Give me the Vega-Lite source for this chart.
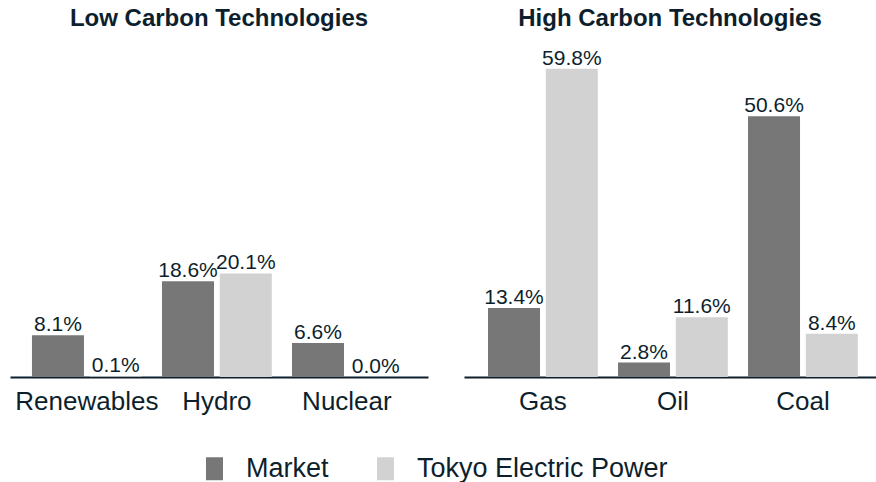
{
  "$schema": "https://vega.github.io/schema/vega-lite/v6.json",
  "padding": {"top": 7, "left": 10, "right": 0, "bottom": 0},
  "background": "white",
  "datasets": {
    "energy": [
      {"group": "Low", "tech": "Renewables", "series": "Market", "share": 0.081},
      {"group": "Low", "tech": "Renewables", "series": "Tokyo Electric Power", "share": 0.001},
      {"group": "Low", "tech": "Hydro", "series": "Market", "share": 0.186},
      {"group": "Low", "tech": "Hydro", "series": "Tokyo Electric Power", "share": 0.201},
      {"group": "Low", "tech": "Nuclear", "series": "Market", "share": 0.066},
      {"group": "Low", "tech": "Nuclear", "series": "Tokyo Electric Power", "share": 0.0},
      {"group": "High", "tech": "Gas", "series": "Market", "share": 0.134},
      {"group": "High", "tech": "Gas", "series": "Tokyo Electric Power", "share": 0.598},
      {"group": "High", "tech": "Oil", "series": "Market", "share": 0.028},
      {"group": "High", "tech": "Oil", "series": "Tokyo Electric Power", "share": 0.116},
      {"group": "High", "tech": "Coal", "series": "Market", "share": 0.506},
      {"group": "High", "tech": "Coal", "series": "Tokyo Electric Power", "share": 0.084}
    ]
  },
  "data": {"name": "energy"},
  "spacing": 36,
  "hconcat": [
    {
      "title": {"text": "Low Carbon Technologies"},
      "width": 418,
      "height": 335,
      "transform": [{"filter": "datum.group === 'Low'"}],
      "encoding": {
        "x": {"field": "tech", "type": "nominal", "sort": ["Renewables", "Hydro", "Nuclear"], "title": null,
              "scale": {"paddingInner": 0.111, "paddingOuter": 0.163, "align": 0.45}},
        "xOffset": {"field": "series", "type": "nominal", "sort": ["Market", "Tokyo Electric Power"],
                    "scale": {"paddingInner": 0.1, "paddingOuter": 0.05}},
        "y": {"field": "share", "type": "quantitative", "axis": null, "scale": {"domain": [0, 0.65], "nice": false}}
      },
      "layer": [
        {"mark": {"type": "bar"},
         "encoding": {"color": {"field": "series", "type": "nominal", "sort": ["Market", "Tokyo Electric Power"],
                                "scale": {"domain": ["Market", "Tokyo Electric Power"], "range": ["#777777", "#d2d2d2"]},
                                "title": null}}},
        {"mark": {"type": "text", "baseline": "alphabetic", "dy": -4, "fontSize": 21, "color": "#0d1f2d"},
         "encoding": {"text": {"field": "share", "type": "quantitative", "format": ".1%"}}}
      ]
    },
    {
      "title": {"text": "High Carbon Technologies"},
      "width": 412,
      "height": 335,
      "transform": [{"filter": "datum.group === 'High'"}],
      "encoding": {
        "x": {"field": "tech", "type": "nominal", "sort": ["Gas", "Oil", "Coal"], "title": null,
              "scale": {"paddingInner": 0.111, "paddingOuter": 0.14, "align": 0.58}},
        "xOffset": {"field": "series", "type": "nominal", "sort": ["Market", "Tokyo Electric Power"],
                    "scale": {"paddingInner": 0.1, "paddingOuter": 0.05}},
        "y": {"field": "share", "type": "quantitative", "axis": null, "scale": {"domain": [0, 0.65], "nice": false}}
      },
      "layer": [
        {"mark": {"type": "bar"},
         "encoding": {"color": {"field": "series", "type": "nominal", "sort": ["Market", "Tokyo Electric Power"],
                                "scale": {"domain": ["Market", "Tokyo Electric Power"], "range": ["#777777", "#d2d2d2"]},
                                "title": null,
                                "legend": {"orient": "none", "legendX": 191, "legendY": 413}}}},
        {"mark": {"type": "text", "baseline": "alphabetic", "dy": -4, "fontSize": 21, "color": "#0d1f2d"},
         "encoding": {"text": {"field": "share", "type": "quantitative", "format": ".1%"}}}
      ]
    }
  ],
  "resolve": {"scale": {"color": "shared"}},
  "config": {
    "font": "Liberation Sans",
    "view": {"stroke": null},
    "title": {"fontSize": 24, "fontWeight": "bold", "color": "#0d1f2d", "offset": 11, "anchor": "middle"},
    "axisX": {"domainColor": "#0d1f2d", "domainWidth": 2, "ticks": false, "labelFontSize": 26, "labelColor": "#0d1f2d",
              "labelAngle": 0, "labelPadding": 11, "grid": false},
    "legend": {"direction": "horizontal", "symbolType": "M-0.74,-1H0.74V1H-0.74Z", "symbolSize": 529,
               "symbolStrokeWidth": 0, "labelFontSize": 27, "labelColor": "#0d1f2d", "labelOffset": 18,
               "labelLimit": 500, "columnPadding": 43}
  }
}
